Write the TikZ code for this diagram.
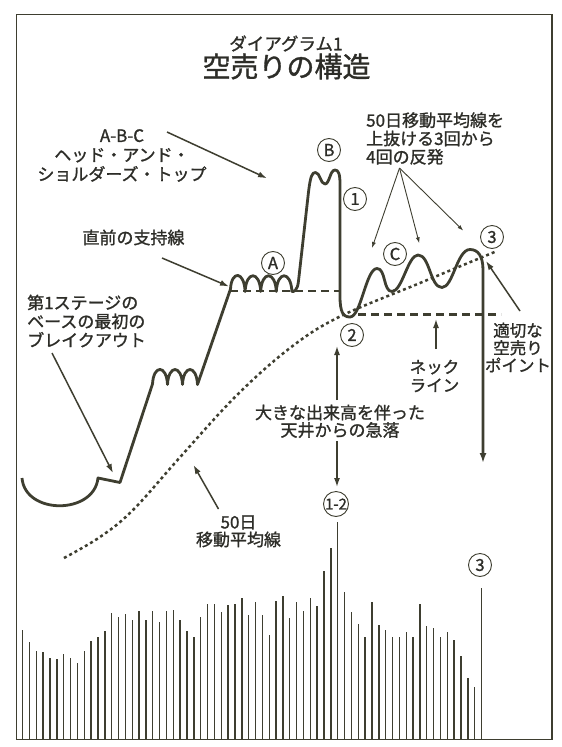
\documentclass[tikz,border=0pt]{standalone}
\usepackage{fontspec}
\setmainfont{Noto Sans CJK JP}[FakeBold=1.2]
\usetikzlibrary{arrows.meta}
\definecolor{ink}{RGB}{62,62,48}
\definecolor{txt}{RGB}{45,45,40}
\begin{document}
\begin{tikzpicture}[x=1pt,y=-1pt,
  curve/.style={ink,line width=2.8pt,line join=round},
  arr/.style={ink,line width=1.5pt,-{Latex[length=9pt,width=6pt]}},
  thinarr/.style={ink,line width=0.9pt,-{Latex[length=6pt,width=4pt]}},
  lbl/.style={txt,inner sep=0pt,align=center,font=\fontsize{17}{19.3}\selectfont},
  circ/.style={draw=ink,line width=0.9pt,circle,minimum size=23pt,inner sep=0pt,text=txt,font=\fontsize{16.5}{16.5}\selectfont},
  bar/.style={ink,line width=1.4pt},
  supportdash/.style={ink,line width=2.1pt,dash pattern=on 8pt off 5pt},
  madots/.style={ink,line width=2.5pt,dash pattern=on 3pt off 3pt}
]
\fill[white] (0,0) rectangle (562,747);
\path[use as bounding box] (0,0) rectangle (562,747);
% frame
\draw[ink,line width=1.5pt] (16.5,14.5) rectangle (552,739.5);
% titles
\node[lbl,font=\fontsize{17.5}{20}\selectfont] (t1) at (286,43.5) {ダイアグラム1};
\node[lbl,font=\fontsize{28}{30}\selectfont] (t2) at (286.5,66.5) {空売りの構造};
% labels
\node[lbl] (abc) at (122,155.5) {A-B-C\\ヘッド・アンド・\\ショルダーズ・トップ};
\node[lbl,align=left,anchor=west,font=\fontsize{17}{18.3}\selectfont] (react) at (366,138.5) {50日移動平均線を\\上抜ける3回から\\4回の反発};
\node[lbl] (support) at (133.5,237.5) {直前の支持線};
\node[lbl,align=left,anchor=west,font=\fontsize{17}{18.75}\selectfont] (stage) at (27,321) {第1ステージの\\ベースの最初の\\ブレイクアウト};
\node[lbl,font=\fontsize{16.5}{18.3}\selectfont] (neck) at (434.5,376) {ネック\\ライン};
\node[lbl,font=\fontsize{16.5}{17.5}\selectfont] (point) at (518,347.5) {適切な\\空売り\\ポイント};
\node[lbl,font=\fontsize{17}{17.5}\selectfont] (vol) at (340,421.3) {大きな出来高を伴った\\天井からの急落};
\node[lbl,font=\fontsize{17}{17.5}\selectfont] (ma) at (238.5,531.3) {50日\\移動平均線};
% circled marks
\node[circ] (cA) at (273,263) {A};
\node[circ] (cB) at (329,150) {B};
\node[circ] (c1) at (355,199) {1};
\node[circ] (cC) at (395,254) {C};
\node[circ] (c3a) at (492,237) {3};
\node[circ] (c2) at (352,335) {2};
\node[circ,minimum size=25pt,font=\fontsize{15}{15}\selectfont] (c12) at (336,504) {1-2};
\node[circ] (c3b) at (480,565) {3};
% volume bars
\foreach \t [count=\i] in {630,642,650.5,651.5,657.5,658.5,653.5,657.5,662.5,651.3,
 641.3,637.3,631,612.7,617,614,620,611,620,611,
 622.3,611,610,620,631,636.5,617.3,604.3,604.3,612.3,
 605.3,604.3,598.3,615.3,602.3,615.3,634.5,601.3,596.3,618.3,
 602.3,611.3,598.3,606.3,571,547.7,522.3,591.7,612.3,624,
 636.7,601.7,625,630,637,637,632,637,603.7,626,
 628.2,637,632.3,640.2,655.5,678.3,687.3,587.5}
 \draw[bar] ({22.6+(\i-1)*6.85},739.5) -- ({22.6+(\i-1)*6.85},\t);
% support line and neckline
\draw[supportdash] (230,291) -- (340,291);
\draw[supportdash] (358,314.5) -- (501,314.5);
% 50-day moving average
\draw[madots] plot[smooth,tension=0.6] coordinates {(64,558) (100,537) (133,510) (182,455) (237,395) (290,348) (339,317) (420,283) (497,251)};
% price curve
\draw[curve,-{Latex[length=10pt,width=7pt]}] (22,478) .. controls (25,515) and (94,515) .. (98,478)
 -- (120,482.5) -- (152.5,384)
 .. controls (153.5,364.5) and (166.5,364.5) .. (167.5,384.5)
 .. controls (168.5,364.5) and (181.5,364.5) .. (182.5,384.5)
 .. controls (183.5,364.5) and (196.5,364.5) .. (197.5,384.5)
 -- (230.5,289)
 .. controls (231.5,270.5) and (244.1,270.5) .. (245.1,291.5)
 .. controls (246.1,270.5) and (259.7,270.5) .. (260.7,291.5)
 .. controls (261.7,270.5) and (275.3,270.5) .. (276.3,291.5)
 .. controls (277.3,270.5) and (290.9,270.5) .. (291.9,291.5)
 .. controls (293.5,292) and (297.5,291) .. (298.5,281) -- (308.5,192)
 .. controls (310.5,176) and (312,172.5) .. (315.5,172.5)
 .. controls (320,172.5) and (320.5,184) .. (325,184)
 .. controls (329.5,184) and (330,170) .. (335,170)
 .. controls (338.5,170) and (340,174) .. (340,184)
 -- (340,296)
 .. controls (340,312) and (343,317) .. (350,317)
 .. controls (361,317) and (366,268.5) .. (377,268.5)
 .. controls (386,268.5) and (383,291.5) .. (392,291.5)
 .. controls (402,291.5) and (408,255) .. (418,255)
 .. controls (430,255) and (430,287.5) .. (442,287.5)
 .. controls (453,287.5) and (457,249.5) .. (470,249.5)
 .. controls (478,249.5) and (483,256) .. (483,270)
 -- (483,463);
% arrow end points
\coordinate (abcS) at (167,132);   \coordinate (abcE) at (267,178.3);
\coordinate (supS) at (162,258);   \coordinate (supE) at (229,286.5);
\coordinate (stS) at (52,353);     \coordinate (stE) at (113,473);
\coordinate (maS) at (218.5,509);  \coordinate (maE) at (193.5,465);
\coordinate (hub) at (399.5,168);
\coordinate (r1) at (372,248); \coordinate (r2) at (419.3,243.3); \coordinate (r3) at (463.3,230.7);
\coordinate (nkS) at (436,349);    \coordinate (nkE) at (436,319);
\coordinate (ptS) at (520,311);    \coordinate (ptE) at (486,261);
\coordinate (vuS) at (337,400);    \coordinate (vuE) at (337,346);
\coordinate (vdS) at (337,441);    \coordinate (vdE) at (337,487);
\draw[arr] (abcS) -- (abcE);
\draw[arr] (supS) -- (supE);
\draw[arr] (stS) -- (stE);
\draw[arr] (maS) -- (maE);
\draw[thinarr] (hub) -- (r1);
\draw[thinarr] (hub) -- (r2);
\draw[thinarr] (hub) -- (r3);
\draw[arr] (nkS) -- (nkE);
\draw[arr] (ptS) -- (ptE);
\draw[arr] (vuS) -- (vuE);
\draw[arr] (vdS) -- (vdE);
\end{tikzpicture}
\end{document}
